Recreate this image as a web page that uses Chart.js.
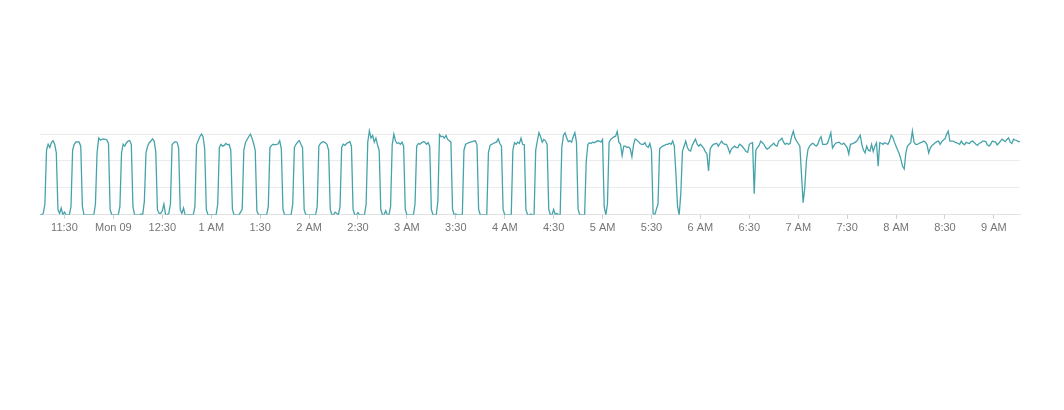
<!DOCTYPE html>
<html>
<head>
<meta charset="utf-8">
<script src="https://cdn.jsdelivr.net/npm/chart.js@4/dist/chart.umd.min.js"></script>
<style>
  html, body { margin: 0; padding: 0; background: #fff; }
</style>
</head>
<body>
<canvas id="canvas" width="1064" height="410"></canvas>
<script>
// one reading per minute, starting 23:15 (Sun) and ending 9:16 (Mon)
var load = [
  0, 0, 5, 40, 240, 262, 250, 268, 275, 262,
  230, 20, 5, 25, 0, 10, 0, 0, 0, 30,
  240, 262, 270, 272, 270, 255, 30, 0, 0, 0,
  0, 0, 0, 0, 40, 230, 285, 278, 280, 282,
  280, 278, 265, 20, 0, 0, 0, 0, 0, 30,
  230, 262, 255, 268, 274, 276, 262, 30, 0, 0,
  0, 0, 3, 0, 50, 230, 255, 268, 274, 282,
  274, 235, 20, 5, 5, 15, 40, 0, 0, 5,
  40, 260, 268, 272, 270, 250, 20, 5, 25, 0,
  0, 0, 0, 0, 0, 30, 260, 275, 290, 300,
  290, 245, 20, 0, 0, 0, 0, 0, 0, 40,
  250, 262, 255, 258, 265, 260, 262, 240, 20, 0,
  0, 0, 0, 10, 20, 240, 268, 280, 290, 300,
  285, 265, 240, 15, 0, 0, 0, 0, 0, 0,
  30, 250, 258, 262, 260, 262, 263, 275, 245, 20,
  0, 0, 0, 0, 0, 40, 250, 262, 270, 276,
  262, 250, 20, 0, 0, 0, 0, 0, 0, 0,
  30, 255, 265, 270, 272, 268, 262, 240, 20, 0,
  0, 10, 5, 0, 30, 250, 262, 258, 265, 268,
  272, 255, 20, 0, 0, 8, 0, 0, 0, 0,
  40, 270, 312, 285, 295, 270, 285, 260, 240, 20,
  0, 0, 15, 0, 0, 30, 260, 300, 275, 265,
  268, 262, 270, 255, 20, 0, 0, 0, 0, 0,
  40, 255, 265, 262, 268, 272, 270, 262, 268, 255,
  20, 0, 0, 0, 50, 298, 290, 292, 285, 295,
  280, 275, 270, 20, 0, 3, 0, 0, 0, 0,
  240, 262, 265, 268, 270, 272, 274, 275, 260, 20,
  0, 0, 0, 0, 0, 230, 258, 262, 265, 268,
  270, 282, 265, 255, 20, 0, 0, 0, 0, 0,
  240, 268, 262, 270, 265, 285, 262, 260, 20, 0,
  0, 3, 0, 0, 240, 275, 305, 290, 270, 280,
  275, 262, 20, 0, 0, 20, 0, 5, 0, 0,
  250, 295, 305, 285, 272, 275, 270, 290, 305, 270,
  20, 0, 0, 0, 0, 200, 262, 268, 265, 270,
  268, 272, 275, 274, 270, 280, 30, 0, 40, 270,
  280, 285, 290, 292, 310, 270, 262, 220, 255, 255,
  250, 252, 245, 215, 260, 282, 278, 272, 265, 262,
  262, 268, 255, 250, 265, 240, 5, 0, 20, 40,
  245, 252, 255, 258, 262, 262, 266, 262, 274, 255,
  150, 30, 0, 80, 237, 255, 274, 250, 240, 237,
  258, 270, 281, 262, 255, 262, 255, 248, 235, 226,
  163, 245, 255, 262, 264, 266, 255, 265, 274, 265,
  262, 262, 248, 229, 244, 250, 255, 250, 250, 262,
  258, 252, 244, 235, 232, 262, 266, 268, 78, 240,
  250, 258, 274, 268, 262, 250, 244, 248, 255, 260,
  266, 258, 255, 274, 278, 285, 270, 262, 266, 262,
  265, 292, 311, 285, 274, 265, 255, 150, 45, 100,
  200, 244, 255, 262, 266, 260, 255, 262, 280, 290,
  262, 262, 262, 266, 285, 305, 248, 258, 266, 268,
  270, 264, 262, 266, 258, 250, 226, 262, 264, 266,
  270, 274, 285, 296, 262, 240, 230, 255, 240, 237,
  262, 235, 255, 268, 181, 268, 266, 262, 268, 265,
  262, 274, 296, 288, 270, 255, 240, 226, 205, 180,
  170, 230, 255, 262, 268, 311, 270, 262, 262, 265,
  268, 270, 274, 270, 260, 230, 248, 258, 262, 268,
  272, 274, 262, 272, 278, 282, 300, 311, 274, 274,
  274, 270, 268, 265, 262, 274, 265, 260, 270, 266,
  265, 272, 274, 268, 262, 258, 266, 268, 274, 274,
  272, 260, 255, 262, 274, 272, 270, 260, 266, 274,
  281, 276, 272, 280, 286, 270, 265, 281, 278, 276,
  272, 272
];

// minutes after 23:15 where the axis labels sit
var tickMinutes = [15, 45, 75, 105, 135, 165, 195, 225, 255, 285, 315, 345, 375, 405, 435, 465, 495, 525, 555, 585];
var tickLabels = ['11:30', 'Mon 09', '12:30', '1 AM', '1:30', '2 AM', '2:30', '3 AM', '3:30', '4 AM',
                  '4:30', '5 AM', '5:30', '6 AM', '6:30', '7 AM', '7:30', '8 AM', '8:30', '9 AM'];
var gridValues = [0, 100, 200, 300];

var minutes = load.map(function (v, i) { return i; });

var ctx = document.getElementById('canvas').getContext('2d');
new Chart(ctx, {
  type: 'line',
  data: {
    labels: minutes,
    datasets: [{
      data: load,
      borderColor: '#46a3aa',
      borderWidth: 1.3,
      pointRadius: 0,
      fill: false,
      tension: 0
    }]
  },
  options: {
    responsive: false,
    animation: false,
    devicePixelRatio: 1,
    layout: { padding: { left: 40, right: 44, top: 126, bottom: 172 } },
    plugins: { legend: { display: false }, tooltip: { enabled: false } },
    scales: {
      x: {
        type: 'linear',
        min: 0,
        max: load.length - 1,
        afterBuildTicks: function (scale) {
          scale.ticks = tickMinutes.map(function (m) { return { value: m }; });
        },
        ticks: {
          autoSkip: false,
          maxRotation: 0,
          padding: 3,
          color: '#757575',
          font: { family: 'Liberation Sans, Arial, sans-serif', size: 11 },
          callback: function (value) {
            var k = tickMinutes.indexOf(value);
            return k >= 0 ? tickLabels[k] : '';
          }
        },
        grid: { drawOnChartArea: false, drawTicks: true, tickLength: 4, color: '#cfcfcf' },
        border: { color: '#e3e3e3' }
      },
      y: {
        min: 0,
        max: 330,
        afterBuildTicks: function (scale) {
          scale.ticks = gridValues.map(function (v) { return { value: v }; });
        },
        ticks: { display: false },
        grid: { color: '#ebebeb', drawTicks: false },
        border: { display: false }
      }
    }
  }
});
</script>
</body>
</html>
